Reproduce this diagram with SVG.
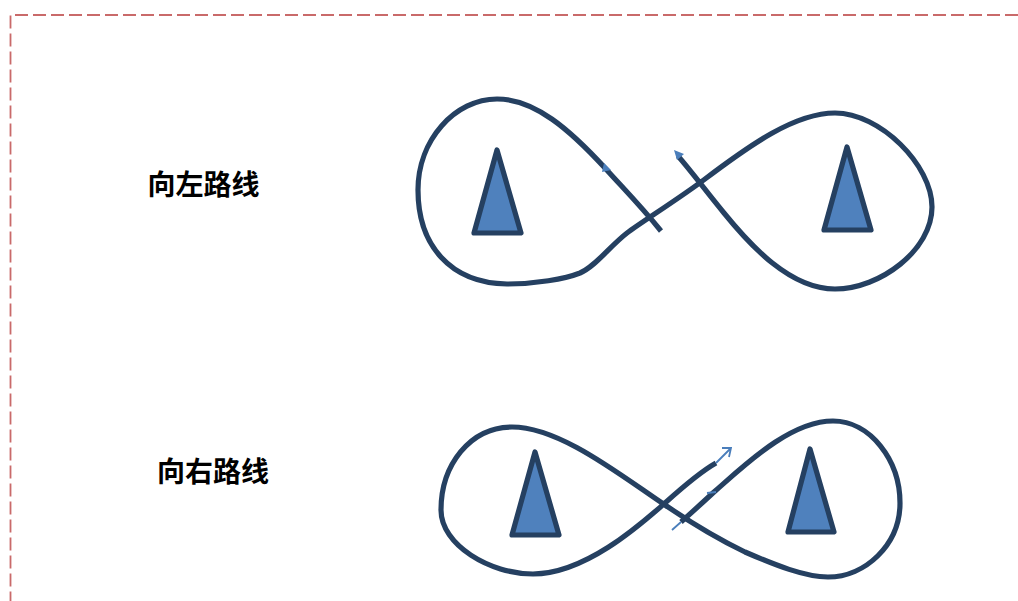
<svg xmlns="http://www.w3.org/2000/svg" width="1018" height="601" viewBox="0 0 1018 601">
<style>
.curve{fill:none;stroke:#254061;stroke-width:5.200;stroke-linecap:butt;stroke-linejoin:round}
.thin{fill:none;stroke:#4a7ebb;stroke-width:1.800}
.tri{fill:#4f81bd;stroke:#254061;stroke-width:5.200;stroke-linejoin:round}
.frame{fill:none;stroke:#c96a6a;stroke-width:1.800;stroke-dasharray:13 5}
.label{font-family:"Noto Sans CJK SC","Liberation Sans",sans-serif;font-size:28px;font-weight:700;fill:#000}
</style>
<g id="frame"><path class="frame" d="M1018 15H10.500V601"/></g>
<g id="label-left"><text class="label" x="147.500" y="195">向左路线</text></g>
<g id="label-right"><text class="label" x="157" y="482">向右路线</text></g>
<g id="cone-1"><polygon class="tri" points="497,150 521,233 474,233"/></g>
<g id="cone-2"><polygon class="tri" points="847,147 871,230 824,230"/></g>
<g id="cone-3"><polygon class="tri" points="535,452 559,535 512,535"/></g>
<g id="cone-4"><polygon class="tri" points="810,449 834,532 788,532"/></g>
<g id="connectors">
<path class="curve" d="M661 231C640 205 622 187 605 168C570 130 535 99 497 99C455 99 418 140 418 190C418 245 450 283 507 284C535 284 565 279 580 273C596 266 610 246 627 233C640 223 680 198 705 179C750 145 795 113 835 113C880 113 932 165 932 207C932 250 880 289 835 289C790 289 750 245 724 213C705 190 692 172 678 156"/>
<path fill="#4a7ebb" d="M602 172L604 163L611 170ZM674 150L684 154L677 160Z"/>
<path class="curve" d="M716 463C700 472 685 485 665 503C640 525 585 574 533 574C490 574 441 545 441 510C441 465 470 427 512 427C560 427 620 475 665 505C690 522 720 540 745 552C775 565 805 577 828 577C865 577 900 545 900 503C900 460 870 421 833 421C790 421 745 465 714 492C700 505 690 514 681 522"/>
<path class="thin" d="M716 463L731 448M722 448L731 448L729 457M681 522L672 530M707 493L716 492"/>
</g>
</svg>
